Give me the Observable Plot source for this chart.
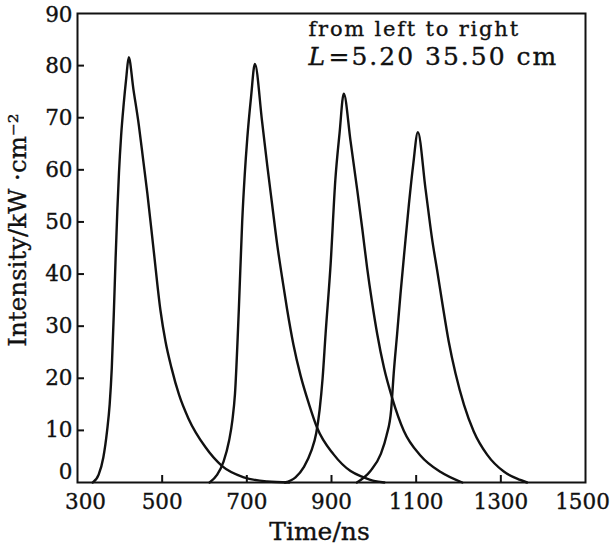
<!DOCTYPE html>
<html>
<head>
<meta charset="utf-8">
<script src="https://cdn.jsdelivr.net/npm/d3@7"></script>
<script src="https://cdn.jsdelivr.net/npm/@observablehq/plot@0.6"></script>
<style>
  html, body { margin: 0; padding: 0; background: #fff; }
  #chart svg { display: block; }
  #chart svg text { stroke: #111; stroke-width: 0.35px; }
</style>
</head>
<body>
<div id="chart"></div>
<script>
// ---- Data (time in ns, intensity in kW/cm^2) ----
const xTicks = [300, 500, 700, 900, 1100, 1300, 1500];
const yTicks = [0, 10, 20, 30, 40, 50, 60, 70, 80, 90];

const seriesNames = ["L=5 cm", "L=20 cm", "L=35 cm", "L=50 cm"];

const t1 = [336, 350, 361, 370, 376, 381, 386, 390, 394, 398, 403, 409, 415, 421, 432, 445, 455, 465, 480, 496, 508, 522, 540, 562, 602, 641, 693, 748, 800];
const v1 = [0, 1.5, 4.8, 10, 15, 22, 33, 43, 52, 59.5, 66.5, 72.5, 77.5, 81.6, 75.5, 68.5, 62, 55.5, 44.5, 33, 27, 22, 16.8, 12.3, 6.8, 3.2, 1, 0.2, 0];

const t2 = [612, 630, 645, 658, 666, 672, 681, 689, 695, 701, 710, 719, 736, 748, 760, 772, 784, 795, 810, 827, 847, 866, 905, 945, 976, 1000, 1025];
const v2 = [0, 1.5, 4, 8, 12, 17, 33, 50, 59, 66, 74, 80.3, 69.3, 61, 53.2, 45.5, 39, 33.3, 26.5, 20.5, 15, 10.5, 5.4, 2.2, 1, 0.3, 0];

const t3 = [790, 815, 835, 852, 864, 872, 879, 886, 898, 909, 919, 929, 945, 961, 973, 984, 996, 1008, 1024, 1043, 1071, 1110, 1158, 1209];
const v3 = [0, 1, 3, 6, 9.5, 14, 20, 28.5, 42, 58, 67, 74.6, 65.5, 56, 48.5, 41.3, 34.5, 28.5, 22, 16.3, 9.9, 5.2, 2, 0];

const t4 = [960, 992, 1016, 1030, 1041, 1047, 1055, 1063, 1073, 1083, 1093, 1104, 1122, 1138, 1150, 1162, 1177, 1193, 1213, 1236, 1268, 1307, 1346, 1362];
const v4 = [0, 2.2, 5.4, 9, 14, 21, 28.5, 36.2, 45, 53.5, 61, 67.2, 56.4, 46.5, 40.5, 34.3, 27, 20.9, 14.9, 9.8, 5.3, 2.1, 0.5, 0];

const annotationLine1 = "from left to right";
const annotationL = "L";
const annotationLine2 = "=5.20 35.50 cm";
const xLabel = "Time/ns";
const yLabel = "Intensity/kW \u00b7cm\u207b\u00b2";

// ---- Build table ----
const times = [t1, t2, t3, t4];
const vals = [v1, v2, v3, v4];
const data = [];
times.forEach((ts, i) => ts.forEach((t, j) => data.push({series: seriesNames[i], t, v: vals[i][j]})));

const W = 612, H = 547;
const mL = 77, mR = 27, mT = 13, mB = 65;
const plotW = W - mL - mR, plotH = H - mT - mB;
const font = "DejaVu Serif, Liberation Serif, serif";
const ink = "#111";
const tickFont = 21.5;

const chart = Plot.plot({
  width: W,
  height: H,
  marginLeft: mL,
  marginRight: mR,
  marginTop: mT,
  marginBottom: mB,
  style: {fontFamily: font, color: ink, background: "#fff"},
  x: {domain: [300, 1500]},
  y: {domain: [0, 90]},
  marks: [
    Plot.axisX({ticks: xTicks.slice(1, -1), tickSize: 0, tickPadding: 11, fontSize: tickFont, label: null, tickFormat: d => String(d)}),
    Plot.axisX({ticks: [xTicks[0]], tickSize: 0, tickPadding: 11, fontSize: tickFont, label: null, dx: 8, tickFormat: d => String(d)}),
    Plot.axisX({ticks: [xTicks[xTicks.length - 1]], tickSize: 0, tickPadding: 11, fontSize: tickFont, label: null, dx: -3, tickFormat: d => String(d)}),
    Plot.axisY({ticks: yTicks.slice(1, -1), tickSize: 0, tickPadding: 5, fontSize: tickFont, label: null}),
    Plot.axisY({ticks: [yTicks[0]], tickSize: 0, tickPadding: 5, fontSize: tickFont, label: null, dy: -10}),
    Plot.axisY({ticks: [yTicks[yTicks.length - 1]], tickSize: 0, tickPadding: 5, fontSize: tickFont, label: null, dy: 2}),
    Plot.tickX(xTicks.slice(1, -1), {x: d => d, insetTop: plotH - 7, stroke: ink, strokeWidth: 2}),
    Plot.tickY(yTicks.slice(1, -1), {y: d => d, insetRight: plotW - 7, stroke: ink, strokeWidth: 2}),
    Plot.line(data, {x: "t", y: "v", z: "series", curve: "monotone-x", stroke: ink, strokeWidth: 2.4}),
    Plot.frame({stroke: ink, strokeWidth: 2}),
    Plot.text([annotationLine1], {frameAnchor: "top-left", dx: 231, dy: 22, lineAnchor: "bottom", textAnchor: "start", fontSize: 21, fill: ink}),
    Plot.text([annotationL], {frameAnchor: "top-left", dx: 231, dy: 51, lineAnchor: "bottom", textAnchor: "start", fontSize: 25, fontStyle: "italic", fill: ink}),
    Plot.text([annotationLine2], {frameAnchor: "top-left", dx: 251, dy: 51, lineAnchor: "bottom", textAnchor: "start", fontSize: 25, fill: ink}),
    Plot.text([xLabel], {frameAnchor: "bottom", dx: -12, dy: 57, lineAnchor: "bottom", fontSize: 25, fill: ink}),
    Plot.text([yLabel], {frameAnchor: "left", dx: -59, dy: -18, rotate: -90, textAnchor: "middle", fontSize: 24.5, fill: ink})
  ]
});
// letter spacing to mimic the wide-set type of the original
d3.select(chart).selectAll("text").each(function () {
  const s = this.textContent;
  if (s === annotationLine1) this.setAttribute("letter-spacing", "1.8");
  if (s === annotationLine2) this.setAttribute("letter-spacing", "2");
});
document.getElementById("chart").appendChild(chart);
</script>
</body>
</html>
